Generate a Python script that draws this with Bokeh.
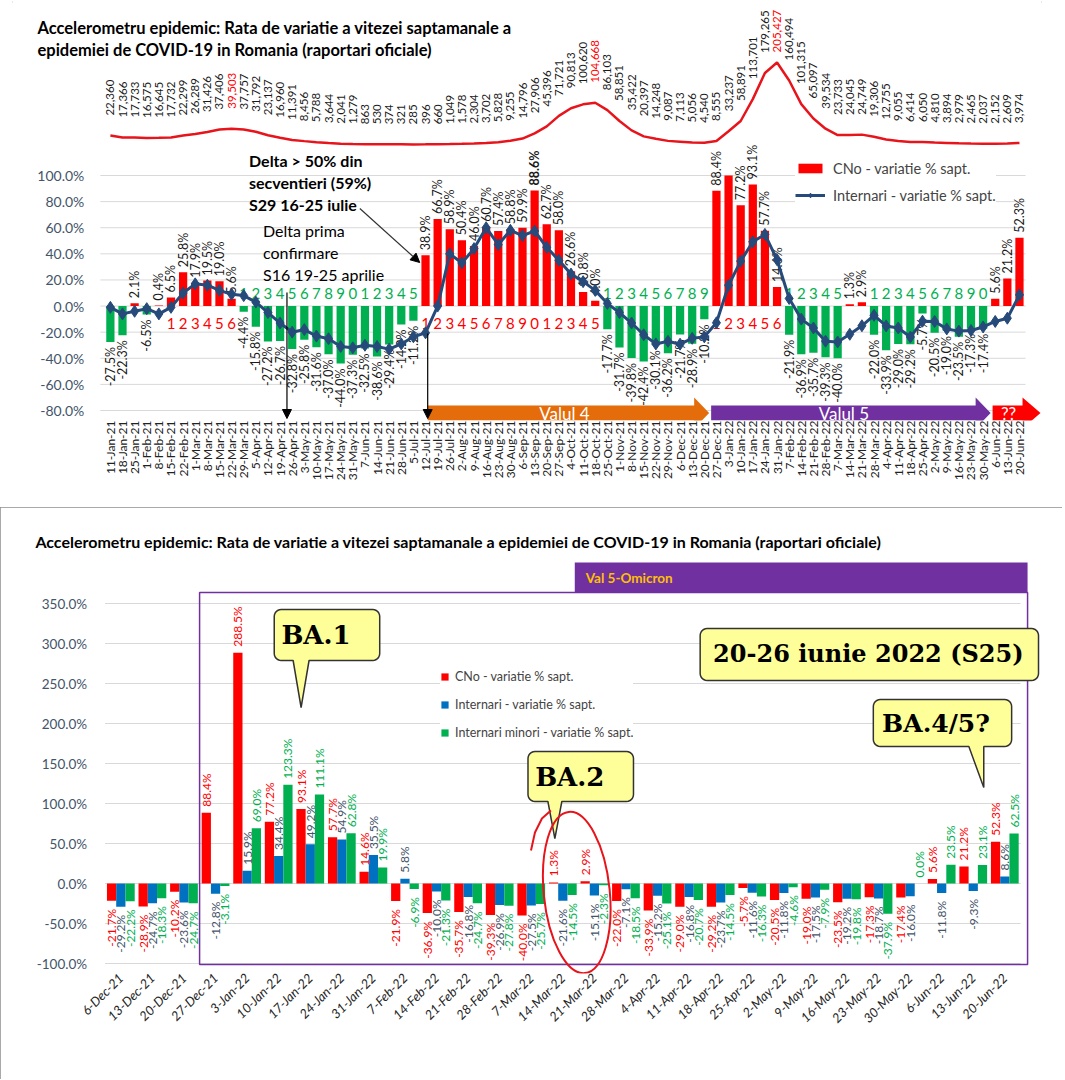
import math
from bokeh.plotting import figure
from bokeh.layouts import column
from bokeh.models import (Range1d, FixedTicker, PrintfTickFormatter, Legend,
                          LegendItem, Arrow, NormalHead)
from bokeh.core.properties import value
from bokeh.embed import file_html
from bokeh.resources import INLINE

FONT = "Lato"
SERIF = "DejaVu Serif"

# ---------------- data: top panel ----------------
weeks_top = ["11-Jan-21","18-Jan-21","25-Jan-21","1-Feb-21","8-Feb-21","15-Feb-21","22-Feb-21",
             "1-Mar-21","8-Mar-21","15-Mar-21","22-Mar-21","29-Mar-21","5-Apr-21","12-Apr-21",
             "19-Apr-21","26-Apr-21","3-May-21","10-May-21","17-May-21","24-May-21","31-May-21",
             "7-Jun-21","14-Jun-21","21-Jun-21","28-Jun-21","5-Jul-21","12-Jul-21","19-Jul-21",
             "26-Jul-21","2-Aug-21","9-Aug-21","16-Aug-21","23-Aug-21","30-Aug-21","6-Sep-21",
             "13-Sep-21","20-Sep-21","27-Sep-21","4-Oct-21","11-Oct-21","18-Oct-21","25-Oct-21",
             "1-Nov-21","8-Nov-21","15-Nov-21","22-Nov-21","29-Nov-21","6-Dec-21","13-Dec-21",
             "20-Dec-21","27-Dec-21","3-Jan-22","10-Jan-22","17-Jan-22","24-Jan-22","31-Jan-22",
             "7-Feb-22","14-Feb-22","21-Feb-22","28-Feb-22","7-Mar-22","14-Mar-22","21-Mar-22",
             "28-Mar-22","4-Apr-22","11-Apr-22","18-Apr-22","25-Apr-22","2-May-22","9-May-22",
             "16-May-22","23-May-22","30-May-22","6-Jun-22","13-Jun-22","20-Jun-22"]

cases_weekly = [22360, 17366, 17733, 16575, 16645, 17732, 22299, 26289, 31426, 37406,
                39503, 37757, 31792, 23137, 16960, 11391, 8456, 5788, 3644, 2041,
                1279, 863, 530, 374, 321, 285, 396, 660, 1049, 1578,
                2304, 3702, 5828, 9255, 14796, 27906, 45396, 71721, 90813, 100620,
                104668, 86103, 58851, 35422, 20397, 14248, 9087, 7113, 5056, 4540,
                8555, 33237, 58891, 113701, 179265, 205427, 160494, 101315, 65097, 39534,
                23733, 24045, 24749, 19306, 12755, 9055, 6414, 6050, 4810, 3894,
                2979, 2465, 2037, 2152, 2609, 3974]
peak_weeks = ["22-Mar-21", "18-Oct-21", "31-Jan-22"]

cno_top = [-27.5, -22.3, 2.1, -6.5, 0.4, 6.5, 25.8, 17.9, 19.5, 19.0,
           5.6, -4.4, -15.8, -27.2, -26.7, -32.8, -25.8, -31.6, -37.0, -44.0,
           -37.3, -32.5, -38.6, -29.4, -14.2, -11.2, 38.9, 66.7, 58.9, 50.4,
           46.0, 60.7, 57.4, 58.8, 59.9, 88.6, 62.7, 58.0, 26.6, 10.8,
           4.0, -17.7, -31.7, -39.8, -42.4, -30.1, -36.2, -21.7, -28.9, -10.2,
           88.4, 288.5, 77.2, 93.1, 57.7, 14.6, -21.9, -36.9, -35.7, -39.3,
           -40.0, 1.3, 2.9, -22.0, -33.9, -29.0, -29.2, -5.7, -20.5, -19.0,
           -23.5, -17.3, -17.4, 5.6, 21.2, 52.3]
bold_label_weeks = ["13-Sep-21"]

internari_top = [-1, -6, -4, -2, -6, -1, 10, 17, 16, 12,
                 9, 8, 3, -5, -13, -20, -18, -23, -25, -31,
                 -32, -30, -31, -33, -29, -23.5, -20.5, 0, 40, 33,
                 44, 60, 47, 58, 54, 57.5, 45, 35, 24.5, 18.7,
                 12, 2, -5, -13, -22, -29, -27, -29.2, -24.7, -23.6,
                 -12.8, 15.9, 34.4, 49.2, 54.9, 35.5, 5.8, -10.0, -16.8, -26.9,
                 -27.5, -21.6, -15.1, -7.1, -15.2, -16.8, -23.7, -11.6, -11.8, -17.5,
                 -19.2, -18.7, -16.0, -11.8, -9.3, 8.6]
ticks_top = [-80, -60, -40, -20, 0, 20, 40, 60, 80, 100]

# ---------------- data: bottom panel ----------------
weeks_bot = ["6-Dec-21","13-Dec-21","20-Dec-21","27-Dec-21","3-Jan-22","10-Jan-22","17-Jan-22",
             "24-Jan-22","31-Jan-22","7-Feb-22","14-Feb-22","21-Feb-22","28-Feb-22","7-Mar-22",
             "14-Mar-22","21-Mar-22","28-Mar-22","4-Apr-22","11-Apr-22","18-Apr-22","25-Apr-22",
             "2-May-22","9-May-22","16-May-22","23-May-22","30-May-22","6-Jun-22","13-Jun-22","20-Jun-22"]
cno_bot = [-21.7, -28.9, -10.2, 88.4, 288.5, 77.2, 93.1, 57.7, 14.6, -21.9,
           -36.9, -35.7, -39.3, -40.0, 1.3, 2.9, -22.0, -33.9, -29.0, -29.2,
           -5.7, -20.5, -19.0, -23.5, -17.3, -17.4, 5.6, 21.2, 52.3]
internari_bot = [-29.2, -24.7, -23.6, -12.8, 15.9, 34.4, 49.2, 54.9, 35.5, 5.8,
                 -10.0, -16.8, -26.9, -27.5, -21.6, -15.1, -7.1, -15.2, -16.8, -23.7,
                 -11.6, -11.8, -17.5, -19.2, -18.7, -16.0, -11.8, -9.3, 8.6]
minori_bot = [-22.2, -18.3, -24.7, -3.1, 69.0, 123.3, 111.1, 62.8, 19.9, -6.9,
              -21.3, -24.7, -27.8, -25.7, -14.5, -2.3, -18.5, -25.1, -20.7, -14.5,
              -16.3, -4.6, -7.9, -19.8, -37.9, 0.0, 23.5, 23.1, 62.5]
ticks_bot = [-100, -50, 0, 50, 100, 150, 200, 250, 300, 350]

TITLE_1 = "Accelerometru epidemic:  Rata de variatie a vitezei saptamanale a"
TITLE_2 = "epidemiei de COVID-19 in Romania (raportari oficiale)"
TITLE_B = ("Accelerometru epidemic:  Rata de variatie a vitezei saptamanale a epidemiei "
           "de COVID-19 in Romania (raportari oficiale)")

RED = "#FF0000"
GREEN = "#00B050"
BLUE_BAR = "#0070C0"
NAVY = "#264A7A"
PURPLE = "#7030A0"
ORANGE = "#E46C0A"
TICKC = "#44546A"
GRIDC = "#D9D9D9"


def txt(p, x, y, t, size, color="black", align="left", baseline="middle", angle=0.0,
        style="normal", font=FONT, **kw):
    p.text(x=x, y=y, text=t, angle=angle, text_align=align, text_baseline=baseline,
           text_font=value(font), text_font_size=size, text_color=color,
           text_font_style=style, **kw)


def run_digits(vals, thr=1.0, min_len=5):
    sign = [1 if v > thr else (-1 if v < -thr else 0) for v in vals]
    out = [""] * len(vals)
    i = 0
    while i < len(vals):
        j = i
        while j + 1 < len(vals) and sign[j + 1] == sign[i]:
            j += 1
        if sign[i] != 0 and (j - i + 1) >= min_len:
            for k in range(i, j + 1):
                out[k] = str((k - i + 1) % 10)
        i = j + 1
    return out, sign


# ======================= TOP PANEL =======================
# canvas-pixel -> data helpers (annotation placement only)
W1 = 923 / 76.0
PPP1 = 235 / 180.0
CPP = 0.000399


def fx1(px):
    return (px - 102) / W1 - 0.5


def fy1(py):
    return 100 + (175 - py) / PPP1


def fc(py):
    return (144 - py) / CPP


n1 = len(weeks_top)
idx1 = list(range(n1))

p1 = figure(width=1062, height=503, title=None,
            x_range=Range1d(fx1(10), fx1(1041)), y_range=Range1d(fy1(420), fy1(0)),
            output_backend="svg", toolbar_location=None,
            min_border_left=10, min_border_right=21, min_border_top=0, min_border_bottom=83)
p1.extra_y_ranges = {"cases": Range1d(fc(420), fc(0))}
p1.outline_line_color = None
p1.xgrid.visible = False
p1.ygrid.visible = False

# gridlines at the axis ticks
p1.segment(x0=[fx1(98)] * len(ticks_top), y0=ticks_top, x1=[fx1(1025)] * len(ticks_top),
           y1=ticks_top, line_color=GRIDC, line_width=1)

# y axis (drawn at the left edge of the bar area)
ya = p1.yaxis[0]
ya.fixed_location = fx1(102)
ya.ticker = FixedTicker(ticks=ticks_top)
ya.formatter = PrintfTickFormatter(format="%.1f%%")
ya.axis_line_color = None
ya.major_tick_line_color = None
ya.minor_tick_line_color = None
ya.major_label_standoff = 14
ya.major_label_text_font = FONT
ya.major_label_text_font_size = "14px"
ya.major_label_text_color = TICKC

# x axis
xa = p1.xaxis[0]
xa.ticker = FixedTicker(ticks=idx1)
xa.major_label_overrides = {i: w for i, w in enumerate(weeks_top)}
xa.major_label_orientation = math.pi / 2
xa.axis_line_color = None
xa.major_tick_line_color = None
xa.minor_tick_line_color = None
xa.major_tick_out = 0
xa.major_tick_in = 0
xa.major_label_standoff = 0
xa.major_label_text_font = FONT
xa.major_label_text_font_size = "12px"
xa.major_label_text_color = "#222222"

# CNo bars (clipped at the 100% axis maximum)
bar_cols = [RED if v >= 0 else GREEN for v in cno_top]
bars1 = p1.vbar(x=idx1, top=[min(v, 100) for v in cno_top], bottom=0, width=0.68,
                fill_color=bar_cols, line_color=None)

# run counters
digits, signs = run_digits(cno_top)
rx, rt, gx, gt = [], [], [], []
for i, (d, s) in enumerate(zip(digits, signs)):
    if d == "":
        continue
    if s > 0:
        rx.append(i); rt.append(d)
    else:
        gx.append(i); gt.append(d)
txt(p1, rx, [-17 / PPP1] * len(rx), rt, "15px", color=RED, align="center")
txt(p1, gx, [13 / PPP1] * len(gx), gt, "15px", color=GREEN, align="center")

# bar value labels
g1 = 5 / PPP1
ux, uy, ut, dx, dy, dt, bx, by, bt = [], [], [], [], [], [], [], [], []
for i, v in enumerate(cno_top):
    if v > 100:
        continue
    s = f"{v:.1f}%"
    if weeks_top[i] in bold_label_weeks:
        bx.append(i); by.append(v + g1); bt.append(s)
    elif v >= 0:
        ux.append(i); uy.append(v + g1); ut.append(s)
    else:
        dx.append(i); dy.append(v - g1); dt.append(s)
txt(p1, ux, uy, ut, "12.5px", color="#1A1A1A", align="left", angle=math.pi / 2)
txt(p1, bx, by, bt, "12.5px", color="#1A1A1A", align="left", angle=math.pi / 2, style="bold")
txt(p1, dx, dy, dt, "12.5px", color="#1A1A1A", align="right", angle=math.pi / 2)

# internari line
line1 = p1.line(x=idx1, y=internari_top, line_color=NAVY, line_width=3)
pts1 = p1.scatter(x=idx1, y=internari_top, marker="diamond", size=12, fill_color=NAVY,
                  line_color=NAVY)

# weekly cases curve (secondary scale) and its labels
p1.line(x=idx1, y=cases_weekly, y_range_name="cases", line_color="#E8141B", line_width=2.5)
CFS = 11.5
lab_y = []
for c in cases_weekly:
    s = f"{c:,}"
    est_len = (sum(ch.isdigit() for ch in s) * 0.58 + s.count(",") * 0.25) * CFS
    line_py = 144 - CPP * c
    bottom_py = max(line_py - 20, 9 + est_len)
    lab_y.append(fc(bottom_py))
ccol = [RED if w in peak_weeks else "#1A1A1A" for w in weeks_top]
txt(p1, idx1, lab_y, [f"{c:,}" for c in cases_weekly], f"{CFS}px",
    color=ccol, align="left", angle=math.pi / 2, y_range_name="cases")


# wave arrows
def arrow_shape(x0, x1, xh, y_top, y_bot, h_top, h_bot):
    ym = (y_top + y_bot) / 2
    xs = [x0, xh, xh, x1, xh, xh, x0]
    ys = [y_top, y_top, h_top, ym, h_bot, y_bot, y_bot]
    return [fx1(x) for x in xs], [fy1(y) for y in ys]


for (x0, x1, xh, col, label, lx) in [(426, 708, 693, ORANGE, "Valul 4", 563),
                                      (710, 990, 975, PURPLE, "Valul 5", 843),
                                      (992, 1040, 1022, RED, "??", 1008)]:
    xs, ys = arrow_shape(x0, x1, xh, 405, 420, 397, 428)
    p1.patch(xs, ys, fill_color=col, line_color=None)
    txt(p1, [fx1(lx)], [fy1(412.5)], [label], "17px", color="white", align="center")

# annotations
for k, line in enumerate(["Delta > 50% din", "secventieri (59%)", "S29 16-25 iulie"]):
    txt(p1, [fx1(247)], [fy1(160 + 22 * k)], [line], "16px", style="bold")
for k, line in enumerate(["Delta prima", "confirmare", "S16 19-25 aprilie"]):
    txt(p1, [fx1(261)], [fy1(230 + 22 * k)], [line], "16px")

p1.add_layout(Arrow(end=NormalHead(size=9, fill_color="black", line_color="black"),
                    x_start=fx1(358), y_start=fy1(208), x_end=fx1(418), y_end=fy1(262),
                    line_color="#333333", line_width=1.2))
p1.add_layout(Arrow(end=NormalHead(size=9, fill_color="black", line_color="black"),
                    x_start=fx1(285), y_start=fy1(292), x_end=fx1(285), y_end=fy1(418),
                    line_color="black", line_width=1.2))
p1.add_layout(Arrow(end=NormalHead(size=9, fill_color="black", line_color="black"),
                    x_start=fx1(426), y_start=fy1(333), x_end=fx1(426), y_end=fy1(418),
                    line_color="black", line_width=1.2))

# title
txt(p1, [fx1(35)], [fy1(27)], [TITLE_1], "16.5px", style="bold")
txt(p1, [fx1(35)], [fy1(49)], [TITLE_2], "16.5px", style="bold")

leg1 = Legend(items=[LegendItem(label="CNo - variatie % sapt.", renderers=[bars1], index=2),
                     LegendItem(label="Internari - variatie % sapt.", renderers=[line1, pts1])],
              location=(783, 216), orientation="vertical",
              label_text_font=FONT, label_text_font_size="14.5px",
              glyph_width=30, glyph_height=12, label_standoff=8, spacing=9,
              label_height=18, padding=4, margin=0,
              border_line_color=None, background_fill_color="white", background_fill_alpha=1.0)
p1.add_layout(leg1)
p1.styles = {"outline": "2px solid #A6A6A6", "outline-offset": "-3px"}

# ======================= BOTTOM PANEL =======================
TOP2 = 507          # page y of the bottom figure
W2 = 920 / 29.0
PPP2 = 0.8
FB2 = 973           # page y of the bottom frame edge


def fx2(px):
    return (px - 105) / W2 - 0.5


def fy2(py):
    return (883 - py) / PPP2


n2 = len(weeks_bot)
idx2 = list(range(n2))
p2 = figure(width=1062, height=572, title=None,
            x_range=Range1d(fx2(12), fx2(1046)), y_range=Range1d(fy2(FB2), fy2(530)),
            output_backend="svg", toolbar_location=None,
            min_border_left=12, min_border_right=16, min_border_top=530 - TOP2,
            min_border_bottom=572 - (FB2 - TOP2))
p2.outline_line_color = None
p2.xgrid.visible = False
p2.ygrid.visible = False

p2.segment(x0=[-0.5] * len(ticks_bot), y0=ticks_bot, x1=[n2 - 0.5] * len(ticks_bot),
           y1=ticks_bot, line_color=GRIDC, line_width=1)

ya2 = p2.yaxis[0]
ya2.fixed_location = fx2(105)
ya2.ticker = FixedTicker(ticks=ticks_bot)
ya2.formatter = PrintfTickFormatter(format="%.1f%%")
ya2.axis_line_color = None
ya2.major_tick_line_color = None
ya2.minor_tick_line_color = None
ya2.major_label_standoff = 12
ya2.major_label_text_font = FONT
ya2.major_label_text_font_size = "13.5px"
ya2.major_label_text_color = TICKC

xa2 = p2.xaxis[0]
xa2.ticker = FixedTicker(ticks=idx2)
xa2.major_label_overrides = {i: w for i, w in enumerate(weeks_bot)}
xa2.major_label_orientation = math.pi / 4
xa2.axis_line_color = None
xa2.major_tick_line_color = None
xa2.minor_tick_line_color = None
xa2.major_tick_out = 0
xa2.major_tick_in = 0
xa2.major_label_standoff = 2
xa2.major_label_text_font = FONT
xa2.major_label_text_font_size = "13px"
xa2.major_label_text_font_style = "italic"
xa2.major_label_text_color = "#262626"

# purple frame and header
p2.quad(left=[fx2(200)], right=[fx2(1032)], top=[fy2(592)], bottom=[fy2(964)],
        fill_color=None, line_color=PURPLE, line_width=1.5)
p2.quad(left=[fx2(577)], right=[fx2(1032)], top=[fy2(562)], bottom=[fy2(592)],
        fill_color=PURPLE, line_color=None)
txt(p2, [fx2(588)], [fy2(577)], ["Val 5-Omicron"], "13.5px", color="#FFC000", style="bold")

bw = 0.293
series = [(cno_bot, -bw, RED, RED, "CNo - variatie % sapt."),
          (internari_bot, 0.0, BLUE_BAR, TICKC, "Internari - variatie % sapt."),
          (minori_bot, bw, GREEN, GREEN, "Internari minori - variatie % sapt.")]
bar_rs = []
for vals, off, col, lcol, name in series:
    xs = [i + off for i in idx2]
    r = p2.vbar(x=xs, top=vals, bottom=0, width=bw, fill_color=col, line_color=None)
    bar_rs.append((name, r))
g_up, g_dn = 6 / PPP2, 8 / PPP2
for vals, off, col, lcol, name in series:
    ux, uy, ut, dx, dy, dt = [], [], [], [], [], []
    for i, v in enumerate(vals):
        s = f"{v:.1f}%"
        if v >= 0:
            ux.append(i + off); uy.append(v + g_up); ut.append(s)
        else:
            dx.append(i + off); dy.append(v - g_dn); dt.append(s)
    txt(p2, ux, uy, ut, "12px", color=lcol, align="left", angle=math.pi / 2)
    txt(p2, dx, dy, dt, "12px", color=lcol, align="right", angle=math.pi / 2)


def callout(l, t, r, b, rad=7, ptr=None):
    def arc(cx, cy, a0, a1):
        n = 6
        return [(cx + rad * math.cos(a0 + (a1 - a0) * k / n),
                 cy + rad * math.sin(a0 + (a1 - a0) * k / n)) for k in range(n + 1)]
    pts = []
    pts += arc(l + rad, t + rad, math.pi, 1.5 * math.pi)
    pts += arc(r - rad, t + rad, 1.5 * math.pi, 2 * math.pi)
    pts += arc(r - rad, b - rad, 0, 0.5 * math.pi)
    if ptr:
        bx1, bx2, tx, ty = ptr
        pts += [(bx2, b), (tx, ty), (bx1, b)]
    pts += arc(l + rad, b - rad, 0.5 * math.pi, math.pi)
    return [fx2(x) for x, y in pts], [fy2(y) for x, y in pts]


for (box, ptr, label, cx, cy, size) in [
        ((275, 609, 381, 660), (294, 310, 302, 707), "BA.1", 317, 634, "26px"),
        ((530, 751, 636, 801), (550, 564, 557, 838), "BA.2", 572, 776, "26px"),
        ((877, 699, 1016, 746), (973, 988, 988, 787), "BA.4/5?", 940, 723, "25px"),
        ((703, 628, 1043, 680), None, "20-26 iunie 2022 (S25)", 872, 653, "24px")]:
    xs, ys = callout(*box, ptr=ptr)
    p2.patch(xs, ys, fill_color="#FFFF99", line_color="#333333", line_width=1.5)
    txt(p2, [fx2(cx)], [fy2(cy)], [label], size, font=SERIF, style="bold", align="center")

# red hand-drawn loop around the BA.2 weeks
p2.ellipse(x=[fx2(579)], y=[fy2(892)], width=66, height=162, angle=0.1,
           width_units="screen", height_units="screen",
           fill_color=None, line_color="#E8141B", line_width=2)
p2.line(x=[fx2(533), fx2(537), fx2(544), fx2(553)], y=[fy2(850), fy2(832), fy2(818), fy2(810)],
        line_color="#E8141B", line_width=2)

txt(p2, [fx2(35)], [fy2(541)], [TITLE_B], "16px", style="bold")

leg2 = Legend(items=[LegendItem(label=n, renderers=[r]) for n, r in bar_rs],
              location=(428, 232), orientation="vertical",
              label_text_font=FONT, label_text_font_size="12.5px",
              glyph_width=9, glyph_height=9, label_standoff=6, spacing=10,
              label_height=18, padding=18, margin=0,
              border_line_color=None, background_fill_color="white", background_fill_alpha=1.0)
p2.add_layout(leg2)
p2.styles = {"outline": "3px solid #8C8C8C", "outline-offset": "-3px"}

layout = column(p1, p2, spacing=4)
open("out.html", "w").write(file_html(layout, INLINE))
